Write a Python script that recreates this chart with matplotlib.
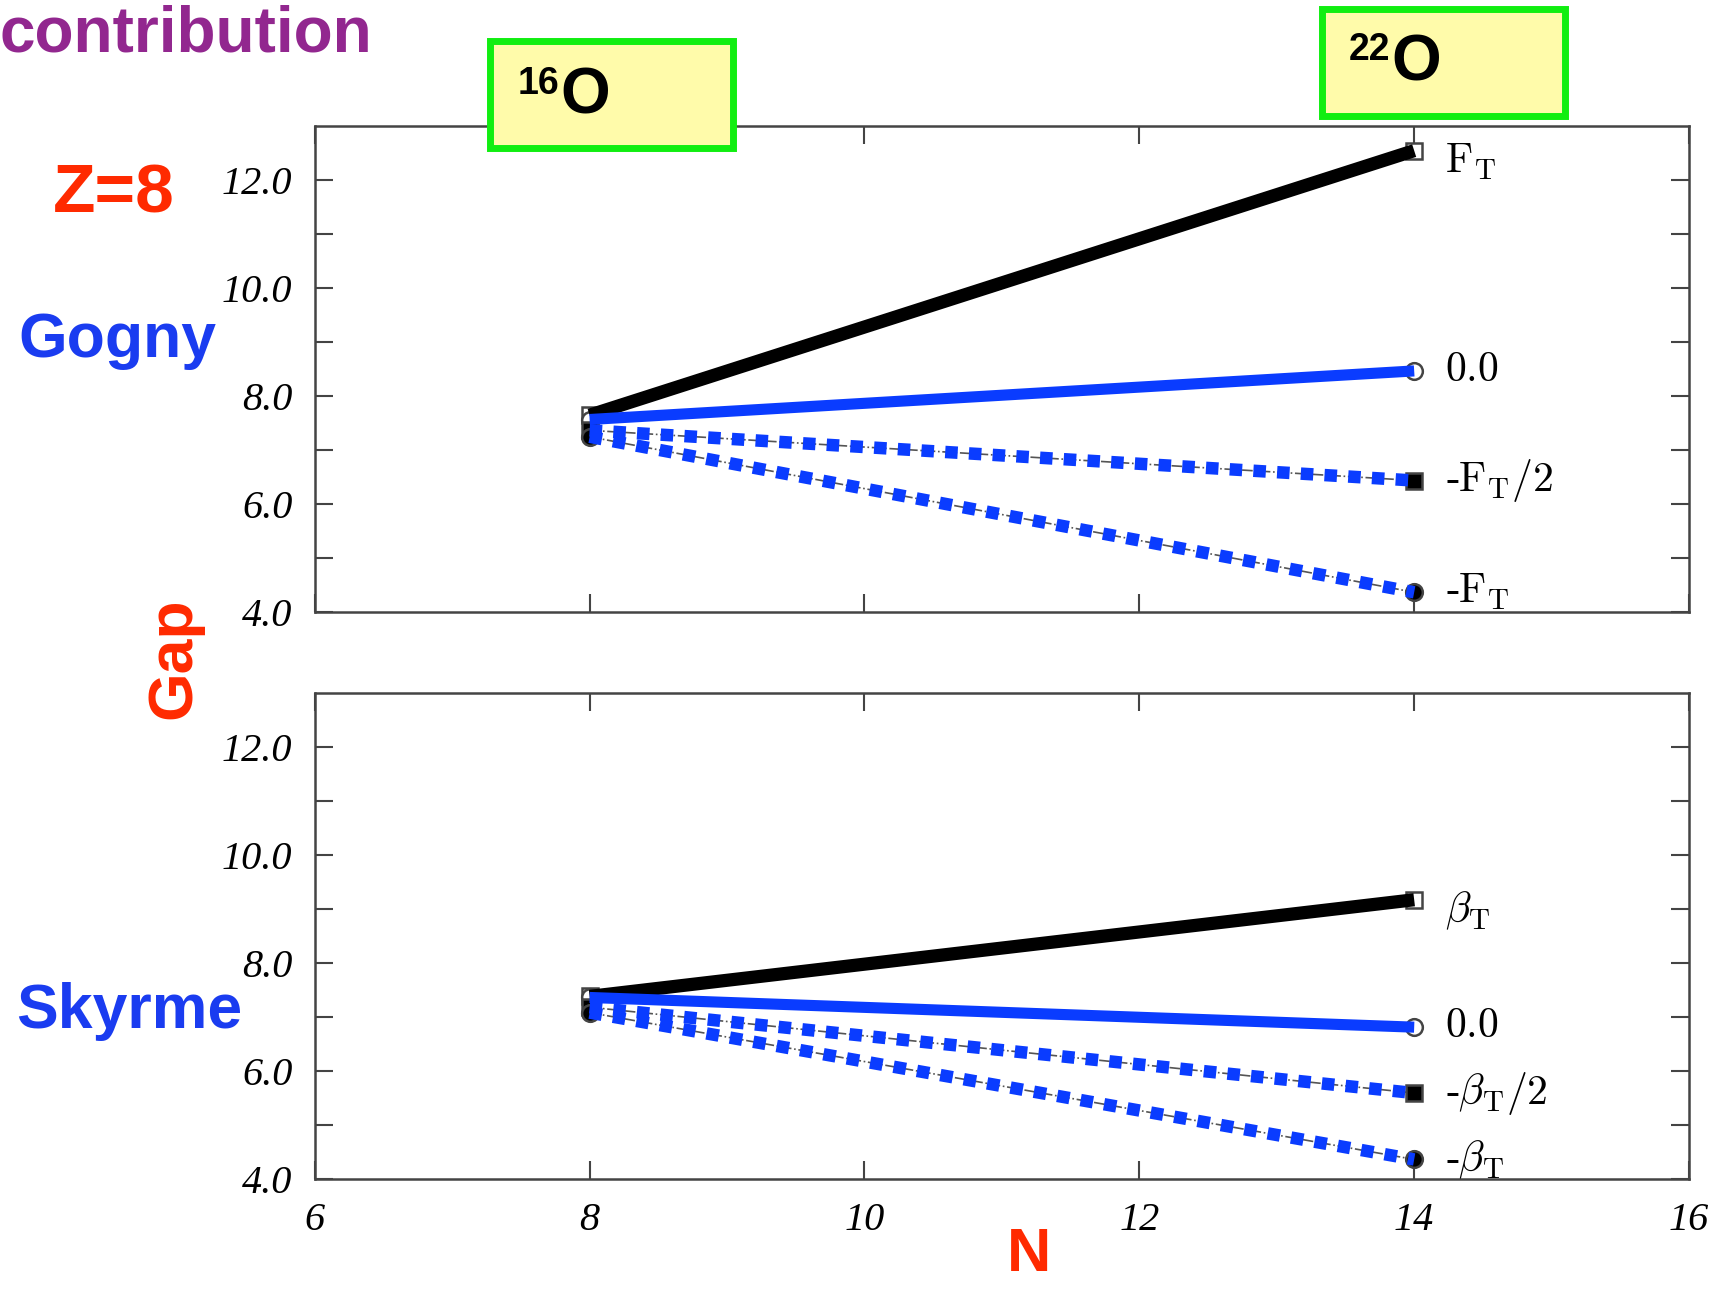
import matplotlib
matplotlib.use("Agg")
import matplotlib.pyplot as plt
from matplotlib.patches import Rectangle

# data: gap at N=8 (16O) and N=14 (22O)
n_vals = [8, 14]
gogny_labels = [r'$\mathrm{F_T}$', r'$0.0$', r'-$\mathrm{F_T/2}$', r'-$\mathrm{F_T}$']
gogny_gaps = [[7.65, 12.55], [7.57, 8.47], [7.37, 6.44], [7.25, 4.37]]
skyrme_labels = [r'$\beta_\mathrm{T}$', r'$0.0$', r'-$\beta_\mathrm{T}/2$', r'-$\beta_\mathrm{T}$']
skyrme_gaps = [[7.39, 9.18], [7.37, 6.82], [7.19, 5.60], [7.09, 4.37]]
x_ticks = [6, 8, 10, 12, 14, 16]
y_ticks = [4.0, 6.0, 8.0, 10.0, 12.0]

blue = '#0a3cff'
red = '#ff2a00'
# (thick colour, thick style, width, thin style, marker, marker face)
styles = [('black', '-', 9.5, '-', 's', 'white'),
          (blue, '-', 8, ':', 'o', 'white'),
          (blue, (0, (1, 0.9)), 9, '-.', 's', 'black'),
          (blue, (0, (1, 0.9)), 9, '-.', 'o', 'black')]

fig = plt.figure(figsize=(17.2, 12.89), dpi=100)
ax1 = fig.add_axes([0.183, 0.525, 0.799, 0.377])
ax2 = fig.add_axes([0.183, 0.085, 0.799, 0.377])


def draw_panel(ax, gaps, labels):
    for i, (g, lab, st) in enumerate(zip(gaps, labels, styles)):
        col, ls, lw, thin, mk, mf = st
        ax.plot(n_vals, g, color='#555555', lw=1.2, ls=thin, marker=mk,
                ms=12, mfc=mf, mec='#444444', mew=1.8, zorder=2)
        ax.plot(n_vals, g, color=col, lw=lw, ls=ls,
                solid_capstyle='butt', dash_capstyle='butt', zorder=3)
        dy = -8 if i == 0 else 0
        ax.annotate(lab, (n_vals[-1], g[-1]), xytext=(22, dy), textcoords='offset points',
                    fontsize=30, family='Liberation Serif', math_fontfamily='cm',
                    va='center', ha='left')
    ax.set_xlim(6, 16)
    ax.set_ylim(4, 13)
    ax.set_xticks(x_ticks)
    ax.set_yticks(y_ticks)
    ax.set_yticks(range(5, 13), minor=True)
    ax.yaxis.set_major_formatter(matplotlib.ticker.FormatStrFormatter('%.1f'))
    ax.tick_params(which='both', direction='in', length=13, width=1.5,
                   color='#444444', top=True, right=True, pad=16)
    ax.tick_params(axis='y', which='minor', length=13)
    for lab in ax.get_xticklabels() + ax.get_yticklabels():
        lab.set_fontfamily('Liberation Serif')
        lab.set_fontstyle('italic')
        lab.set_fontsize(29)
    for sp in ax.spines.values():
        sp.set_color('#444444')
        sp.set_linewidth(1.8)


draw_panel(ax1, gogny_gaps, gogny_labels)
draw_panel(ax2, skyrme_gaps, skyrme_labels)
ax1.tick_params(labelbottom=False)

# isotope boxes
for x0, y0, w, h in [(0.285, 0.885, 0.141, 0.083), (0.7685, 0.910, 0.1415, 0.083)]:
    fig.add_artist(Rectangle((x0, y0), w, h, transform=fig.transFigure,
                             facecolor='#fffbaa', edgecolor='#11ee11', lw=5))
sans = 'Liberation Sans'
fig.text(0.301, 0.935, '16', fontsize=27, fontweight='bold', family=sans, va='center')
fig.text(0.326, 0.925, 'O', fontsize=46, fontweight='bold', family=sans, va='center')
fig.text(0.784, 0.961, '22', fontsize=27, fontweight='bold', family=sans, va='center')
fig.text(0.809, 0.951, 'O', fontsize=46, fontweight='bold', family=sans, va='center')

fig.text(0.0, 0.960, 'contribution', fontsize=46, fontweight='bold', family=sans,
         color='#92278f', va='baseline', ha='left')
fig.text(0.066, 0.849, 'Z=8', fontsize=50, fontweight='bold', family=sans,
         color=red, ha='center', va='center')
fig.text(0.068, 0.736, 'Gogny', fontsize=45, fontweight='bold', family=sans,
         color='#1a3cf0', ha='center', va='center')
fig.text(0.075, 0.215, 'Skyrme', fontsize=45, fontweight='bold', family=sans,
         color='#1a3cf0', ha='center', va='center')
fig.text(0.101, 0.489, 'Gap', fontsize=45, fontweight='bold', family=sans,
         color=red, ha='center', va='center', rotation=90)
fig.text(0.598, 0.004, 'N', fontsize=44, fontweight='bold', family=sans,
         color=red, ha='center', va='bottom')

fig.savefig('out.png', dpi=100)
